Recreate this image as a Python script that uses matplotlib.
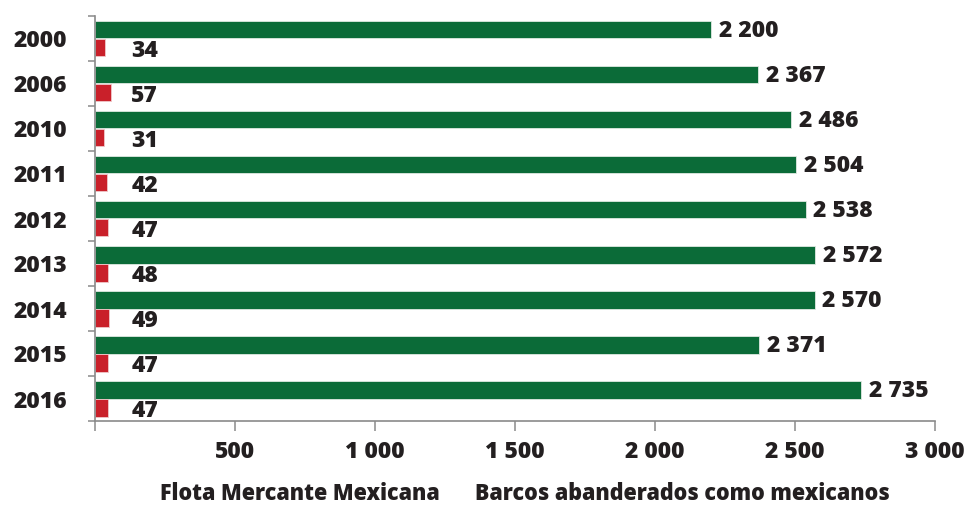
#!/usr/bin/env python3
"""Flota mercante mexicana vs barcos abanderados como mexicanos."""

import matplotlib
matplotlib.use("Agg")
import matplotlib.pyplot as plt
import numpy as np
from matplotlib.ticker import FixedLocator, FuncFormatter

YEARS = ["2000", "2006", "2010", "2011", "2012", "2013", "2014", "2015", "2016"]
FLOTA = [2200, 2367, 2486, 2504, 2538, 2572, 2570, 2371, 2735]
ABANDERADOS = [34, 57, 31, 42, 47, 48, 49, 47, 47]
LEGEND = ["Flota Mercante Mexicana", "Barcos abanderados como mexicanos"]

GREEN = "#0b6b38"
RED = "#c9202a"
TEXT = "#231f20"
SPINE = "#8a8a8a"

plt.rcParams["font.family"] = ["Open Sans", "DejaVu Sans"]
FS = 16.5


def fmt(v):
    return f"{int(v):,}".replace(",", " ")


fig = plt.figure(figsize=(9.65, 5.05), dpi=100)
ax = fig.add_axes([95 / 965, 1 - 421 / 505, 840 / 965, 405 / 505])

y = np.arange(len(YEARS))
h = 0.38
ax.barh(y - 0.19, FLOTA, height=h, color=GREEN, edgecolor="#dfe9e2", linewidth=0.6)
ax.barh(y + 0.21, ABANDERADOS, height=h, color=RED, edgecolor="#f0c8ca", linewidth=0.6)

for yi, v in zip(y, FLOTA):
    ax.text(v + 28, yi - 0.17, fmt(v), ha="left", va="center",
            fontsize=FS, fontweight="heavy", color=TEXT)
for yi, v in zip(y, ABANDERADOS):
    ax.text(130, yi + 0.27, fmt(v), ha="left", va="center",
            fontsize=FS, fontweight="heavy", color=TEXT)

ax.set_xlim(0, 3000)
ax.set_ylim(len(YEARS) - 0.5, -0.5)

ax.set_yticks(y)
ax.set_yticklabels(YEARS, fontsize=FS, fontweight="heavy", color=TEXT)
ax.yaxis.set_minor_locator(FixedLocator(np.arange(-0.5, len(YEARS), 1.0)))
ax.tick_params(axis="y", which="major", length=0, pad=20)
ax.tick_params(axis="y", which="minor", length=5, width=1.1, color=SPINE)

ax.set_xticks(np.arange(0, 3001, 500))
ax.xaxis.set_major_formatter(FuncFormatter(lambda v, _: "" if v == 0 else fmt(v)))
ax.tick_params(axis="x", length=7, width=1.1, color=SPINE, pad=7,
               labelsize=FS, labelcolor=TEXT)
for lab in ax.get_xticklabels():
    lab.set_fontweight("heavy")

for s in ("top", "right"):
    ax.spines[s].set_visible(False)
for s in ("left", "bottom"):
    ax.spines[s].set_color(SPINE)
    ax.spines[s].set_linewidth(1.2)

fig.text(440 / 965, 1 - 494 / 505, LEGEND[0], ha="right", va="center",
         fontsize=15.5, fontweight="heavy", color=TEXT)
fig.text(475 / 965, 1 - 494 / 505, LEGEND[1], ha="left", va="center",
         fontsize=15.5, fontweight="heavy", color=TEXT)

fig.savefig("out.png", dpi=100)
